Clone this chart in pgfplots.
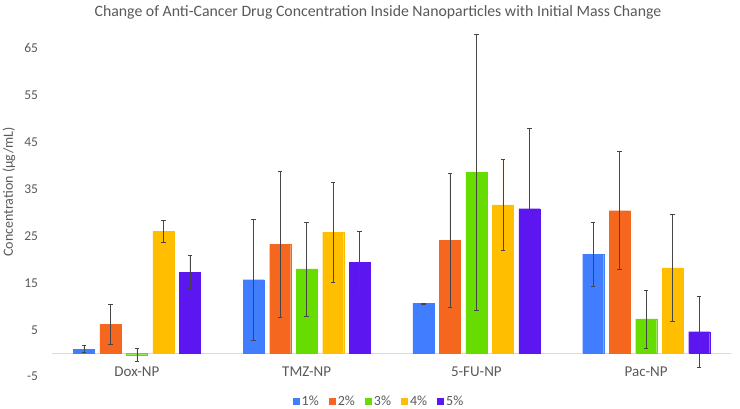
\documentclass[border=0pt]{standalone}
\usepackage{pgfplots}
\pgfplotsset{compat=1.18}
\usepackage{fontspec}
\setmainfont{Carlito}
\definecolor{c1}{RGB}{64,125,255}
\definecolor{c2}{RGB}{245,102,30}
\definecolor{c3}{RGB}{102,220,0}
\definecolor{c4}{RGB}{255,190,0}
\definecolor{c5}{RGB}{92,22,240}
\definecolor{txt}{RGB}{89,89,89}
\definecolor{eb}{RGB}{70,70,70}
\pgfplotsset{
  sq/.style={legend image code/.code={\fill[##1,draw=none] (0pt,-3.5pt) rectangle (7pt,3.5pt);}},
  eb/.style={error bars/.cd, y dir=both, y explicit,
    error mark=|,
    error bar style={draw=eb, line width=0.6pt},
    error mark options={draw=eb, color=eb, line width=0.6pt, mark size=2.3pt}},
}
\begin{document}
\begin{tikzpicture}
\useasboundingbox (-52pt,-31.3pt) rectangle (688pt,376.7pt);
\begin{axis}[
  at={(0,0)}, anchor=south west,
  scale only axis, width=679pt, height=352pt,
  xmin=-0.5, xmax=3.5, ymin=-5, ymax=70,
  axis line style={draw=none},
  major tick length=0,
  xtick={0,1,2,3}, xticklabels={Dox-NP,TMZ-NP,5-FU-NP,Pac-NP},
  ytick={-5,5,15,25,35,45,55,65},
  extra y ticks={0}, extra y tick labels={},
  extra y tick style={grid=major, grid style={draw=black!15, line width=0.8pt}},
  ticklabel style={text=txt},
  /pgf/number format/assume math mode=true,
  yticklabel style={font=\fontsize{13.5}{16}\selectfont, xshift=-10.4pt},
  xticklabel style={font=\fontsize{15}{18}\selectfont, yshift=13.5pt},
  ybar, bar width=21pt,
  legend columns=5,
  legend style={draw=none, fill=none, font=\fontsize{14}{16}\selectfont, text=txt,
    at={(0.4816,-0.071)}, anchor=center,
    /tikz/every even column/.append style={column sep=8pt}},
]
\addplot[fill=c1, draw=c1, line width=0.1pt, bar shift=-53pt, sq, eb]
  coordinates {(0,0.9) +- (0,0.7) (1,15.7) +- (0,12.9) (2,10.6) +- (0,0.1) (3,21.1) +- (0,6.9)};
\addplot[fill=c2, draw=c2, line width=0.1pt, bar shift=-26.5pt, sq, eb]
  coordinates {(0,6.2) +- (0,4.3) (1,23.2) +- (0,15.6) (2,24.1) +- (0,14.3) (3,30.4) +- (0,12.55)};
\addplot[fill=c3, draw=c3, line width=0.1pt, bar shift=0pt, sq, eb]
  coordinates {(0,-0.3) +- (0,1.4) (1,17.95) +- (0,10.05) (2,38.6) +- (0,29.4) (3,7.3) +- (0,6.15)};
\addplot[fill=c4, draw=c4, line width=0.1pt, bar shift=26.5pt, sq, eb]
  coordinates {(0,26.0) +- (0,2.4) (1,25.8) +- (0,10.7) (2,31.6) +- (0,9.75) (3,18.2) +- (0,11.4)};
\addplot[fill=c5, draw=c5, line width=0.1pt, bar shift=53pt, sq, eb]
  coordinates {(0,17.3) +- (0,3.5) (1,19.4) +- (0,6.65) (2,30.8) +- (0,17.1) (3,4.6) +- (0,7.6)};
\legend{1\%,2\%,3\%,4\%,5\%}
\end{axis}
\node[text=txt, font=\fontsize{15.8}{19}\selectfont] at (326pt,364.7pt) {Change of Anti-Cancer Drug Concentration Inside Nanoparticles with Initial Mass Change};
\node[text=txt, rotate=90, font=\fontsize{14}{17}\selectfont] at (-43pt,184.7pt) {Concentration (µg/mL)};
\end{tikzpicture}
\end{document}
